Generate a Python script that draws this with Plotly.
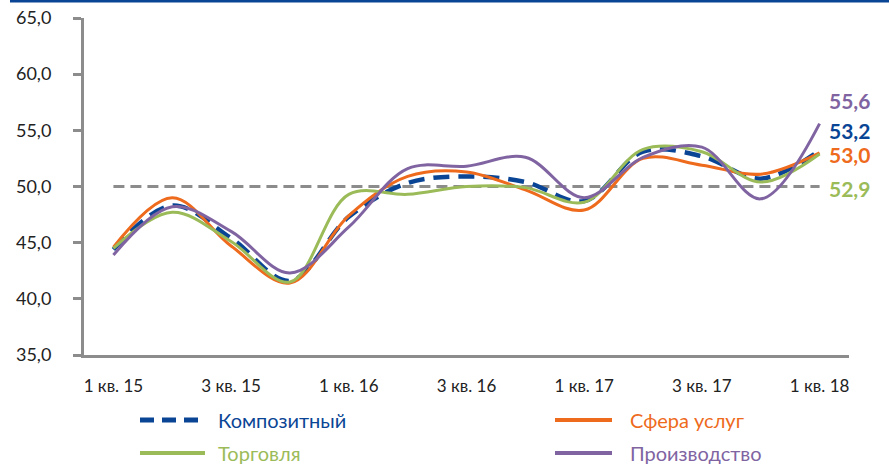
import plotly.graph_objects as go

quarters = ["1 кв. 15", "2 кв. 15", "3 кв. 15", "4 кв. 15",
            "1 кв. 16", "2 кв. 16", "3 кв. 16", "4 кв. 16",
            "1 кв. 17", "2 кв. 17", "3 кв. 17", "4 кв. 17",
            "1 кв. 18"]
tick_labels = ["1 кв. 15", "3 кв. 15", "1 кв. 16", "3 кв. 16", "1 кв. 17", "3 кв. 17", "1 кв. 18"]

composite = [44.4, 48.3, 45.4, 41.6, 47.3, 50.3, 50.9, 50.4, 48.7, 53.1, 52.7, 50.7, 53.2]
services = [44.6, 49.0, 44.7, 41.4, 47.4, 50.9, 51.3, 49.7, 47.9, 52.5, 51.9, 51.1, 53.0]
trade = [44.5, 47.7, 45.1, 41.5, 49.3, 49.3, 50.0, 49.9, 48.6, 53.3, 53.1, 50.4, 52.9]
manufacturing = [43.9, 48.2, 46.0, 42.3, 46.4, 51.6, 51.8, 52.6, 49.0, 52.6, 53.5, 48.9, 55.6]
threshold = 50.0

names = ["Композитный", "Сфера услуг", "Торговля", "Производство"]
values = [composite, services, trade, manufacturing]
colors = ["#0A4595", "#EE6A1C", "#9BBB59", "#8064A2"]
dashes = ["16px,9px", "solid", "solid", "solid"]
widths = [4.5, 3, 3, 3]
label_shift = [20, -2, -35, 23]

W, H = 889, 468
L, R, T, B = 84, 40, 18, 113
pw, ph = W - L - R, H - T - B


def px_x(x):
    return (x - L) / pw


def px_y(y):
    return (H - B - y) / ph


fig = go.Figure()
fig.add_trace(go.Scatter(
    x=quarters, y=[threshold] * len(quarters), mode="lines",
    line=dict(color="#8C8C8C", width=3, dash="11px,6px"),
    showlegend=False, hoverinfo="skip"))

for name, vals, color, dash, width in zip(names, values, colors, dashes, widths):
    fig.add_trace(go.Scatter(
        x=quarters, y=vals, mode="lines", name=name, showlegend=False,
        line=dict(color=color, width=width, dash=dash, shape="spline", smoothing=1.0)))

annotations = []
for vals, color, ys in zip(values, colors, label_shift):
    annotations.append(dict(
        x=quarters[-1], y=vals[-1], xref="x", yref="y",
        text=f"<b>{vals[-1]:.1f}</b>".replace(".", ","),
        showarrow=False, xanchor="left", yanchor="middle",
        xshift=7, yshift=ys,
        font=dict(family="Lato", size=21, color=color)))

# manual legend (2 columns x 2 rows)
shapes = [dict(type="rect", xref="paper", yref="paper",
               x0=px_x(10), x1=px_x(W + 5), y0=px_y(2.5), y1=px_y(-1),
               line=dict(width=0), fillcolor="#0A4595", layer="above")]
leg_cols = [(140, 205, 216), (555, 612, 628)]
leg_rows = [420, 453]
leg_dash = ["14px,8px", "solid", "solid", "solid"]
for i, (name, color) in enumerate(zip(names, colors)):
    c0, c1, tx = leg_cols[i % 2]
    ry = leg_rows[i // 2]
    shapes.append(dict(type="line", xref="paper", yref="paper",
                       x0=px_x(c0), x1=px_x(c1), y0=px_y(ry), y1=px_y(ry),
                       line=dict(color=color, width=5 if i == 0 else 4, dash=leg_dash[i])))
    annotations.append(dict(
        x=px_x(tx), y=px_y(ry), xref="paper", yref="paper",
        text=name, showarrow=False, xanchor="left", yanchor="middle",
        font=dict(family="Lato", size=20, color=color)))

fig.update_layout(
    width=W, height=H,
    margin=dict(l=L, r=R, t=T, b=B, autoexpand=False),
    paper_bgcolor="white", plot_bgcolor="white",
    font=dict(family="Lato", color="#222222"),
    annotations=annotations, shapes=shapes, showlegend=False,
    separators=", ",
)
fig.update_xaxes(
    type="category", range=[-0.5, len(quarters) - 0.5],
    tickvals=tick_labels, ticktext=tick_labels,
    showline=True, linecolor="#8C8C8C", linewidth=3,
    ticks="", showgrid=False, zeroline=False,
    tickfont=dict(family="Lato", size=17, color="#222222"), ticklabelstandoff=14)
fig.update_yaxes(
    range=[35, 65], dtick=5, tickformat=".1f",
    showline=True, linecolor="#8C8C8C", linewidth=3,
    ticks="outside", ticklen=8, tickwidth=3, tickcolor="#8C8C8C",
    showgrid=False, zeroline=False, ticklabelstandoff=18,
    tickfont=dict(family="Lato", size=18, color="#222222"))

fig.write_html("out.html", config={"displayModeBar": False},
               post_script="document.body.style.margin='0';")
